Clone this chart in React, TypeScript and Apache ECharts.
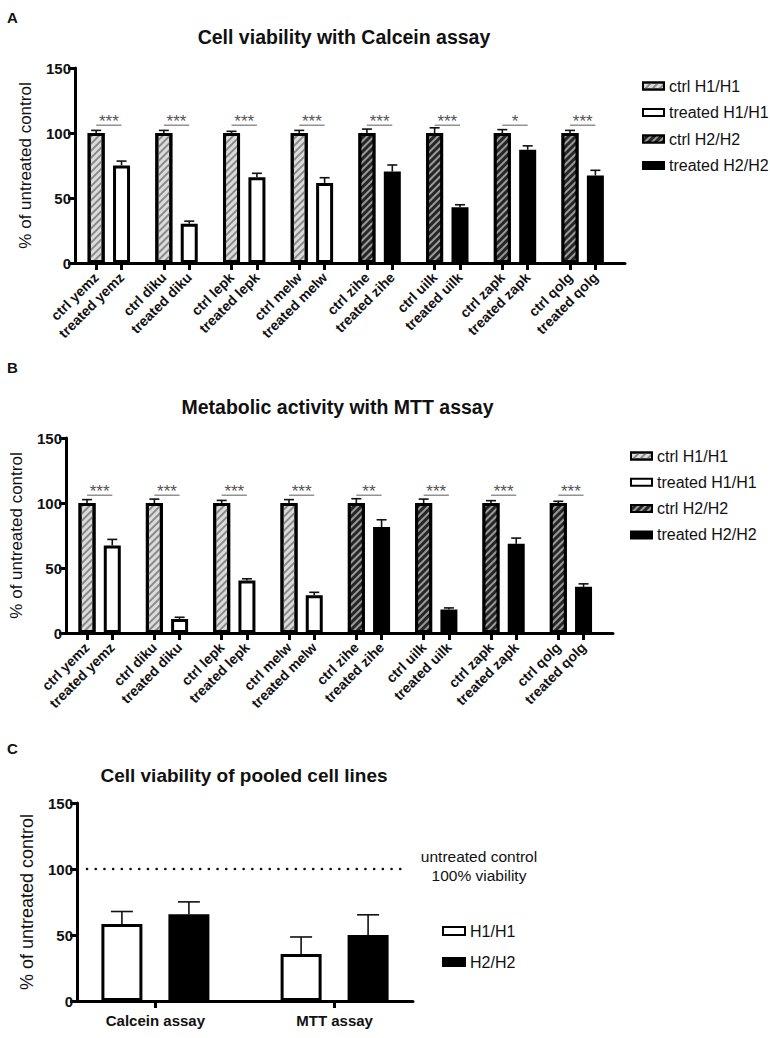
import React, { useEffect, useRef } from 'react';
import * as echarts from 'echarts';

// ---------------- data ----------------
const cellLines = ['yemz', 'diku', 'lepk', 'melw', 'zihe', 'uilk', 'zapk', 'qolg'];
const genotypes = ['H1/H1', 'H1/H1', 'H1/H1', 'H1/H1', 'H2/H2', 'H2/H2', 'H2/H2', 'H2/H2'];
const seriesNames = ['ctrl H1/H1', 'treated H1/H1', 'ctrl H2/H2', 'treated H2/H2'];

const calceinCtrl = [100, 100, 100, 100, 100, 100, 100, 100];
const calceinCtrlErr = [2, 2, 1.3, 2, 3, 4, 2.6, 2];
const calceinTreated = [75, 30.2, 66, 61.6, 70.4, 42.8, 87.1, 67.3];
const calceinTreatedErr = [3.4, 2, 3, 4, 5, 2, 3, 4];
const calceinSig = ['***', '***', '***', '***', '***', '***', '*', '***'];

const mttCtrl = [100, 100, 100, 100, 100, 100, 100, 100];
const mttCtrlErr = [2.6, 3, 2, 2.6, 3.3, 3, 1.8, 1.3];
const mttTreated = [67.4, 10.8, 40.4, 29, 81.5, 18, 68.6, 35.5];
const mttTreatedErr = [4.6, 1.3, 1.3, 2.3, 5.6, 1.3, 4.4, 2.3];
const mttSig = ['***', '***', '***', '***', '**', '***', '***', '***'];

const pooledCategories = ['Calcein assay', 'MTT assay'];
const pooledNames = ['H1/H1', 'H2/H2'];
const pooledH1 = [58.3, 35.7];
const pooledH1Err = [9.5, 12.8];
const pooledH2 = [65.8, 50];
const pooledH2Err = [9.3, 15.3];
const referenceLevel = 100;
const referenceText = 'untreated control\n100% viability';

const yMin = 0;
const yMax = 150;
const yStep = 50;
const sigLevel = 106;

const titles = [
  'Cell viability with Calcein assay',
  'Metabolic activity with MTT assay',
  'Cell viability of pooled cell lines',
];
const yName = '% of untreated control';

// ---------------- layout helpers ----------------
const FONT = '"Liberation Sans", Arial, Helvetica, sans-serif';
const LEAD = 2;
const PERIOD = 8;
const PAIR = 3;
const SLOTS = 65;
const ctrlSlot = (g: number) => LEAD + g * PERIOD;
const treatedSlot = (g: number) => LEAD + g * PERIOD + PAIR;
const isBarSlot = (i: number) => {
  const r = i - LEAD;
  return r >= 0 && r < PERIOD * cellLines.length && (r % PERIOD === 0 || r % PERIOD === PAIR);
};
const slotLabels = (() => {
  const arr: string[] = new Array(SLOTS).fill('');
  cellLines.forEach((c, g) => {
    arr[ctrlSlot(g)] = 'ctrl ' + c;
    arr[treatedSlot(g)] = 'treated ' + c;
  });
  return arr;
})();

const C_SLOTS = 15;
const cSlots = [3, 11];
const cLabels = (() => {
  const arr: string[] = new Array(C_SLOTS).fill('');
  pooledCategories.forEach((c, i) => (arr[cSlots[i]] = c));
  return arr;
})();

const ctrlH1Style = {
  color: '#dcdcdc',
  borderColor: '#000',
  borderWidth: 3,
  decal: {
    symbol: 'rect',
    symbolSize: 1,
    color: '#8a8a8a',
    dashArrayX: [1, 0],
    dashArrayY: [1.6, 2.4],
    rotation: -Math.PI / 4,
  },
};
const treatedH1Style = { color: '#ffffff', borderColor: '#000', borderWidth: 3 };
const ctrlH2Style = {
  color: '#262626',
  borderColor: '#000',
  borderWidth: 3,
  decal: {
    symbol: 'rect',
    symbolSize: 1,
    color: '#9a9a9a',
    dashArrayX: [1, 0],
    dashArrayY: [1.4, 2.6],
    rotation: -Math.PI / 4,
  },
};
const treatedH2Style = { color: '#000000', borderColor: '#000', borderWidth: 3 };
const styles = [ctrlH1Style, treatedH1Style, ctrlH2Style, treatedH2Style];

function yAxisCfg(gridIndex: number, nameSize: number) {
  return {
    type: 'value',
    gridIndex,
    min: yMin,
    max: yMax,
    interval: yStep,
    name: yName,
    nameLocation: 'middle',
    nameGap: 41,
    nameTextStyle: { fontFamily: FONT, fontSize: nameSize, color: '#111' },
    axisLine: { show: true, lineStyle: { color: '#000', width: 3 } },
    axisTick: { show: true, length: 7, lineStyle: { color: '#000', width: 3 } },
    axisLabel: { fontFamily: FONT, fontSize: 15, fontWeight: 'bold', color: '#111', margin: 4 },
    splitLine: { show: false },
  };
}

function xAxisSlots(gridIndex: number) {
  return {
    type: 'category',
    gridIndex,
    data: slotLabels,
    boundaryGap: true,
    axisLine: { show: true, lineStyle: { color: '#000', width: 3 } },
    axisTick: {
      show: true,
      alignWithLabel: true,
      interval: (i: number) => isBarSlot(i),
      length: 7,
      lineStyle: { color: '#000', width: 3 },
    },
    axisLabel: {
      interval: 0,
      rotate: 45,
      fontFamily: FONT,
      fontSize: 14,
      fontWeight: 'bold',
      color: '#111',
      margin: 12,
    },
  };
}

function errRender(capHalf: number, sideOffset: number) {
  return (params: any, api: any) => {
    const x = api.value(0);
    const v = api.value(1);
    const e = api.value(2);
    const side = api.value(3) || 0;
    const p0 = api.coord([x, v]);
    const p1 = api.coord([x, v + e]);
    const cx = p0[0] + side * sideOffset;
    const st = { stroke: '#111', lineWidth: 1.6 };
    return {
      type: 'group',
      children: [
        { type: 'line', shape: { x1: cx, y1: p0[1], x2: cx, y2: p1[1] }, style: st },
        { type: 'line', shape: { x1: cx - capHalf, y1: p1[1], x2: cx + capHalf, y2: p1[1] }, style: st },
      ],
    };
  };
}

function sigRender(labels: string[]) {
  return (params: any, api: any) => {
    const i = params.dataIndex;
    const a = api.coord([api.value(0), api.value(2)]);
    const b = api.coord([api.value(1), api.value(2)]);
    return {
      type: 'group',
      children: [
        { type: 'line', shape: { x1: a[0], y1: a[1], x2: b[0], y2: a[1] }, style: { stroke: '#777', lineWidth: 1.2 } },
        {
          type: 'text',
          x: (a[0] + b[0]) / 2,
          y: a[1] + 5,
          style: {
            text: labels[i],
            fontFamily: FONT,
            fontSize: 17,
            fill: '#555',
            align: 'center',
            verticalAlign: 'bottom',
          },
        },
      ],
    };
  };
}

function panelSeries(
  gridIndex: number,
  ctrl: number[],
  ctrlErr: number[],
  treated: number[],
  treatedErr: number[],
  sig: string[]
) {
  const series: any[] = [];
  seriesNames.forEach((name, k) => {
    const isCtrl = k % 2 === 0;
    const geno = k < 2 ? 'H1/H1' : 'H2/H2';
    const data: any[] = new Array(SLOTS).fill('-');
    cellLines.forEach((_, g) => {
      if (genotypes[g] !== geno) return;
      if (isCtrl) data[ctrlSlot(g)] = ctrl[g];
      else data[treatedSlot(g)] = treated[g];
    });
    series.push({
      type: 'bar',
      name,
      xAxisIndex: gridIndex,
      yAxisIndex: gridIndex,
      data,
      barWidth: 17,
      barGap: '-100%',
      itemStyle: styles[k],
      emphasis: { disabled: true },
    });
  });
  const errData: number[][] = [];
  cellLines.forEach((_, g) => {
    errData.push([ctrlSlot(g), ctrl[g], ctrlErr[g]]);
    errData.push([treatedSlot(g), treated[g], treatedErr[g]]);
  });
  series.push({
    type: 'custom',
    xAxisIndex: gridIndex,
    yAxisIndex: gridIndex,
    data: errData,
    encode: { x: 0, y: 1 },
    renderItem: errRender(5, 0),
    z: 5,
    silent: true,
  });
  series.push({
    type: 'custom',
    xAxisIndex: gridIndex,
    yAxisIndex: gridIndex,
    data: cellLines.map((_, g) => [ctrlSlot(g), treatedSlot(g), sigLevel]),
    encode: { x: 0, y: 2 },
    renderItem: sigRender(sig),
    z: 5,
    silent: true,
  });
  return series;
}

function legendCfg(left: number, top: number, names: string[], w: number, h: number, gap: number) {
  return {
    show: true,
    orient: 'vertical',
    left,
    top,
    data: names,
    icon: 'rect',
    itemWidth: w,
    itemHeight: h,
    itemGap: gap,
    selectedMode: false,
    itemStyle: { borderWidth: 2 },
    textStyle: { fontFamily: FONT, fontSize: 16, color: '#111' },
  };
}

function textEl(x: number, y: number, text: string, size: number, weight: string, align = 'center') {
  return {
    type: 'text',
    x,
    y,
    style: {
      text,
      fontFamily: FONT,
      fontSize: size,
      fontWeight: weight,
      fill: '#111',
      align,
      verticalAlign: 'middle',
      lineHeight: 19,
    },
  };
}

function buildOption() {
  const cH1Data: any[] = new Array(C_SLOTS).fill('-');
  const cH2Data: any[] = new Array(C_SLOTS).fill('-');
  cSlots.forEach((s, i) => {
    cH1Data[s] = pooledH1[i];
    cH2Data[s] = pooledH2[i];
  });
  const cErr: number[][] = [];
  cSlots.forEach((s, i) => {
    cErr.push([s, pooledH1[i], pooledH1Err[i], -1]);
    cErr.push([s, pooledH2[i], pooledH2Err[i], 1]);
  });

  return {
    animation: false,
    backgroundColor: '#ffffff',
    grid: [
      { left: 75, top: 68, width: 550, height: 195 },
      { left: 63, top: 438, width: 550, height: 195 },
      { left: 77, top: 803, width: 336, height: 198 },
    ],
    xAxis: [
      xAxisSlots(0),
      xAxisSlots(1),
      {
        type: 'category',
        gridIndex: 2,
        data: cLabels,
        boundaryGap: true,
        axisLine: { show: true, lineStyle: { color: '#000', width: 3 } },
        axisTick: {
          show: true,
          alignWithLabel: true,
          interval: (i: number) => cSlots.indexOf(i) >= 0,
          length: 7,
          lineStyle: { color: '#000', width: 3 },
        },
        axisLabel: { interval: 0, fontFamily: FONT, fontSize: 15, fontWeight: 'bold', color: '#111', margin: 12 },
      },
    ],
    yAxis: [yAxisCfg(0, 17), yAxisCfg(1, 17), yAxisCfg(2, 18)],
    legend: [
      legendCfg(637, 73, seriesNames, 21, 7, 10.5),
      legendCfg(625, 443, seriesNames, 21, 7, 10.3),
      legendCfg(437, 918, pooledNames, 22, 8, 15),
    ],
    graphic: [
      textEl(7, 17.5, 'A', 15, 'bold', 'left'),
      textEl(7, 367, 'B', 15, 'bold', 'left'),
      textEl(7, 748, 'C', 15, 'bold', 'left'),
      textEl(344, 37, titles[0], 19.5, 'bold'),
      textEl(337.5, 407, titles[1], 19.5, 'bold'),
      textEl(244, 775, titles[2], 19, 'bold'),
      textEl(479, 865.5, referenceText, 15.5, 'normal'),
    ],
    series: [
      ...panelSeries(0, calceinCtrl, calceinCtrlErr, calceinTreated, calceinTreatedErr, calceinSig),
      ...panelSeries(1, mttCtrl, mttCtrlErr, mttTreated, mttTreatedErr, mttSig),
      {
        type: 'bar',
        name: pooledNames[0],
        xAxisIndex: 2,
        yAxisIndex: 2,
        data: cH1Data,
        barWidth: 41,
        barGap: '63.4%',
        itemStyle: treatedH1Style,
        emphasis: { disabled: true },
      },
      {
        type: 'bar',
        name: pooledNames[1],
        xAxisIndex: 2,
        yAxisIndex: 2,
        data: cH2Data,
        barWidth: 41,
        barGap: '63.4%',
        itemStyle: treatedH2Style,
        emphasis: { disabled: true },
      },
      {
        type: 'custom',
        xAxisIndex: 2,
        yAxisIndex: 2,
        data: cErr,
        encode: { x: 0, y: 1 },
        renderItem: errRender(11, 33.5),
        z: 5,
        silent: true,
      },
      {
        type: 'custom',
        xAxisIndex: 2,
        yAxisIndex: 2,
        data: [[0, referenceLevel]],
        encode: { x: 0, y: 1 },
        renderItem: (params: any, api: any) => {
          const cs = params.coordSys;
          const y = api.coord([0, api.value(1)])[1];
          return {
            type: 'line',
            shape: { x1: cs.x + 10, y1: y, x2: cs.x + cs.width - 12, y2: y },
            style: { stroke: '#111', lineWidth: 2.6, lineDash: [0.1, 8.6], lineCap: 'round' },
          };
        },
        z: 4,
        silent: true,
      },
    ],
  };
}

export default function App() {
  const ref = useRef<HTMLDivElement>(null);
  useEffect(() => {
    if (!ref.current) return;
    const chart = echarts.init(ref.current, undefined, { renderer: 'svg' });
    chart.setOption(buildOption() as any);
    return () => chart.dispose();
  }, []);
  return (
    <div
      ref={ref}
      style={{ position: 'fixed', left: 0, top: 0, width: 770, height: 1038, background: '#fff' }}
    />
  );
}
